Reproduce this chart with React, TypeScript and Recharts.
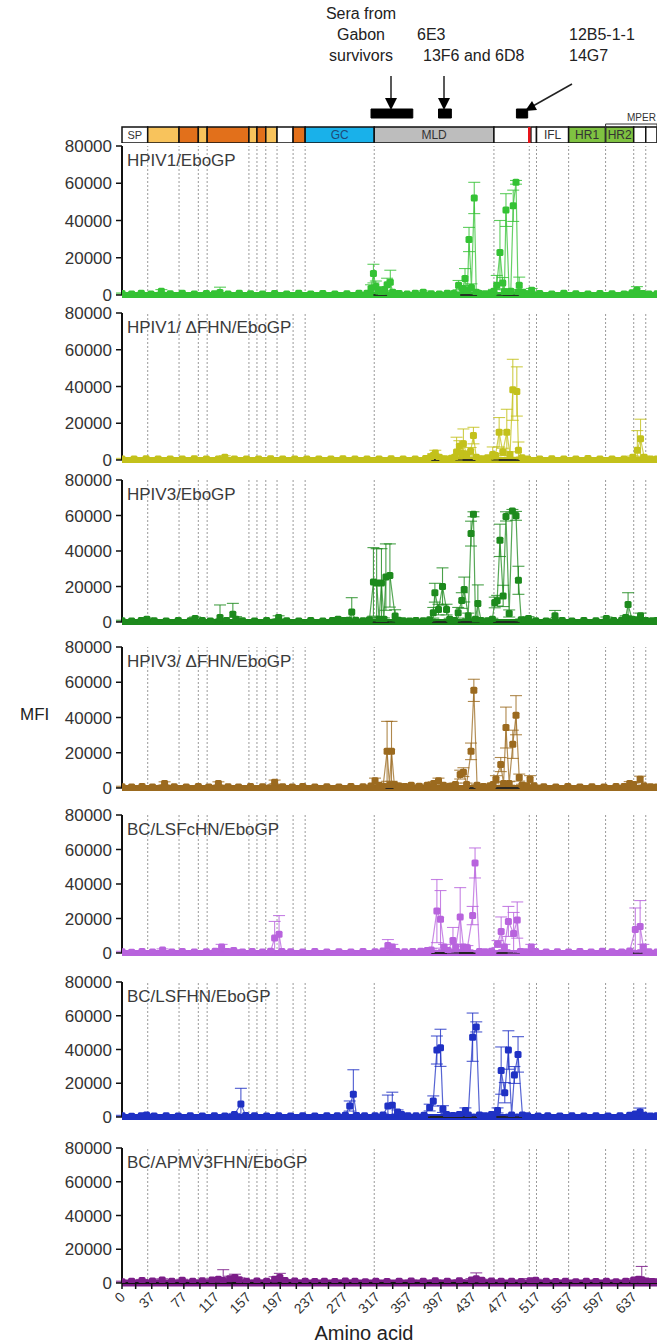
import React from "react";
import { LineChart, Line, XAxis, YAxis, ReferenceLine, ReferenceArea, ErrorBar } from "recharts";

const X_MAX = 666;
const X_TICKS = [0, 17, 37, 57, 77, 97, 117, 137, 157, 177, 197, 217, 237, 257, 277, 297, 317, 337, 357, 377, 397, 417, 437, 457, 477, 497, 517, 537, 557, 577, 597, 617, 637, 657];
const X_LABELS = [0, 37, 77, 117, 157, 197, 237, 277, 317, 357, 397, 437, 477, 517, 557, 597, 637];
const Y_TICKS = [0, 20000, 40000, 60000, 80000];
const DIVIDERS = [32, 71, 95, 106, 158, 168, 179, 193, 213, 228, 314, 463, 507, 516, 556, 602, 637, 652];

// GP domain map (aa ranges)
const DOMAIN_FROM = [0, 32, 71, 95, 106, 158, 168, 179, 193, 213, 228, 314, 463, 509, 516, 556, 602, 637, 652];
const DOMAIN_TO = [32, 71, 95, 106, 158, 168, 179, 193, 213, 228, 314, 463, 507, 516, 556, 602, 637, 652, 666];
const DOMAIN_NAME = ["SP", "", "", "", "", "", "", "", "", "", "GC", "MLD", "", "", "IFL", "HR1", "HR2", "", ""];
const DOMAIN_FILL = ["#fff", "#f8c35c", "#e2701b", "#f8c35c", "#e2701b", "#f8c35c", "#e2701b", "#f8c35c", "#fff", "#e2701b", "#19b1ea", "#bdbdbd", "#fff", "#fff", "#fff", "#7fc241", "#7fc241", "#fff", "#fff"];
const FURIN_SITE = 507;
const EPITOPE_FROM = [310, 394, 491];
const EPITOPE_TO = [362, 410, 505];

// [amino acid, MFI, SD]
const HPIV1_EBOGP = [
  [0, 800, 300], [12, 500, 300], [24, 900, 400], [36, 600, 300], [49, 2000, 900], [60, 700, 300], [75, 900, 400], [90, 600, 300], [105, 800, 400], [115, 700, 300], [122, 1400, 2800], [132, 600, 300], [146, 900, 400], [160, 700, 300], [175, 500, 300], [190, 800, 300], [205, 600, 300], [220, 900, 400], [235, 600, 300], [250, 800, 300], [265, 500, 300], [280, 700, 300], [295, 900, 400], [305, 1000, 400],
  [310, 3500, 2000], [313, 11500, 5000], [316, 4500, 3000], [319, 2500, 1500], [323, 1200, 800], [327, 3000, 1500], [330, 5500, 3500], [334, 6800, 6500], [337, 1500, 800],
  [345, 800, 300], [355, 600, 300], [365, 900, 400], [375, 1500, 600], [385, 700, 300], [395, 600, 300], [405, 1000, 400], [413, 800, 300],
  [419, 5300, 2500], [424, 3500, 1500], [427, 8800, 5400], [430, 2500, 1000], [432, 29800, 6500], [435, 4000, 2000], [438.5, 52100, 8400], [441, 1500, 800], [444, 900, 400], [452, 700, 300], [459, 900, 400],
  [463, 2000, 1000], [466.5, 5300, 5200], [470.5, 22800, 17200], [474, 6400, 3000], [476, 1800, 1000], [478, 45600, 8800], [482, 1000, 500], [484, 2000, 1000], [487, 47900, 8400], [490.5, 60500, 1000], [493, 1500, 600], [494.5, 5300, 4300], [499, 1500, 700],
  [505, 700, 300], [510, 2500, 1000], [520, 800, 300], [535, 600, 300], [550, 900, 400], [565, 700, 300], [580, 600, 300], [595, 800, 300], [610, 700, 300], [625, 600, 300], [635, 1200, 600], [641, 2500, 2000], [648, 800, 300], [656, 600, 300], [666, 700, 300],
];

const HPIV1_DFHN_EBOGP = [
  [0, 600, 300], [15, 500, 200], [30, 700, 300], [45, 500, 200], [60, 600, 300], [75, 500, 200], [90, 700, 300], [105, 500, 200], [120, 600, 300], [128, 1500, 800], [140, 500, 200], [155, 600, 300], [170, 500, 200], [185, 700, 300], [200, 500, 200], [215, 600, 300], [230, 500, 200], [245, 600, 300], [260, 500, 200], [275, 700, 300], [290, 500, 200], [305, 600, 300], [320, 500, 200], [335, 700, 300], [350, 500, 200], [365, 600, 300], [378, 800, 300],
  [384, 1500, 600], [387.5, 2500, 1000], [390, 3800, 1500], [395, 1500, 600], [402, 700, 300], [410, 1000, 400],
  [414, 1500, 600], [416.5, 4400, 8000], [420, 7500, 3000], [423, 3500, 1500], [425, 8900, 8000], [429, 3000, 1500], [434, 4800, 2000], [437.5, 13300, 4500], [441, 1500, 600], [448, 700, 300], [455, 1200, 500],
  [461.5, 3000, 4100], [465, 2500, 1000], [469.5, 15100, 8000], [474, 4400, 2000], [479, 15100, 12500], [483, 3000, 1500], [486.5, 38200, 16600], [491.5, 37300, 13400], [493.5, 5300, 4500], [498, 1200, 500],
  [505, 600, 300], [520, 500, 200], [535, 700, 300], [550, 500, 200], [565, 600, 300], [580, 800, 300], [595, 500, 200], [610, 600, 300], [625, 500, 200], [636, 1500, 600], [641.5, 5300, 10700], [645.5, 11600, 10600], [650, 1500, 500], [658, 600, 300], [666, 500, 200],
];

const HPIV3_EBOGP = [
  [0, 700, 300], [12, 500, 300], [24, 900, 400], [31, 1500, 600], [40, 700, 300], [55, 600, 300], [70, 900, 400], [85, 700, 300], [91, 2000, 800], [100, 800, 300], [110, 600, 300], [122, 2500, 7100], [130, 900, 400], [138, 4300, 6200], [142, 1500, 1500], [150, 700, 300], [165, 600, 300], [180, 800, 300], [195, 2500, 1000], [205, 700, 300], [220, 600, 300], [235, 900, 400], [250, 600, 300], [262, 800, 300], [269, 1500, 600], [276, 800, 300],
  [282, 1000, 400], [286, 5600, 8100], [291, 1000, 400], [300, 700, 300], [308, 1200, 500],
  [313, 22600, 19300], [317, 22000, 19300], [320, 1500, 800], [323, 22000, 19300], [326, 1500, 800], [328.5, 25300, 18700], [333.5, 26200, 17800], [340, 3400, 3500], [344, 1000, 500], [350, 700, 300], [358, 600, 300], [366, 900, 400], [375, 700, 300], [383, 1200, 500],
  [387.5, 5200, 3000], [389.5, 16500, 5300], [394, 7000, 3000], [399, 20000, 10500], [404, 7000, 3000], [408, 1500, 600], [414, 900, 400],
  [418.5, 5200, 3000], [423, 12100, 4400], [426, 18300, 7000], [431, 3500, 1500], [434.5, 49800, 7000], [437.5, 60700, 1400], [440, 1500, 700], [443, 10400, 10500], [447, 800, 300], [455, 700, 300],
  [461, 1500, 600], [464, 11000, 3000], [467, 12000, 3000], [470.5, 46000, 9100], [474.5, 14700, 6000], [478, 59500, 2600], [482, 4800, 2000], [486, 62600, 800], [490.5, 59800, 2500], [493.5, 23500, 7900], [497, 1200, 500],
  [502, 800, 300], [506, 2000, 1000], [515, 700, 300], [528, 600, 300], [539, 3500, 3000], [548, 800, 300], [560, 600, 300], [575, 900, 400], [590, 700, 300], [603, 2000, 800], [612, 800, 300], [622, 1000, 400], [627, 2500, 1000], [630, 9800, 6700], [635, 1500, 600], [640, 1200, 500], [645.5, 3500, 1500], [652, 900, 400], [660, 700, 300], [666, 800, 300],
];

const HPIV3_DFHN_EBOGP = [
  [0, 700, 300], [12, 600, 300], [25, 800, 300], [38, 600, 300], [53, 2500, 1000], [65, 700, 300], [80, 600, 300], [95, 800, 300], [108, 600, 300], [120, 2500, 1000], [132, 700, 300], [145, 600, 300], [160, 800, 300], [175, 700, 300], [190, 3300, 1200], [200, 700, 300], [212, 600, 300], [225, 800, 300], [240, 600, 300], [255, 700, 300], [270, 600, 300], [285, 800, 300], [300, 700, 300], [310, 1200, 500],
  [315, 4100, 1500], [320, 1500, 600], [325, 1000, 400], [330, 20800, 17000], [333, 1500, 600], [335.5, 20800, 17000], [339, 2000, 800], [345, 1200, 500], [352, 800, 300], [360, 1500, 600], [370, 1000, 400], [380, 1500, 600], [388, 2500, 1000], [394, 4100, 1500], [400, 1500, 600], [408, 1000, 400], [415, 2000, 800],
  [421, 7600, 2500], [425, 9000, 2500], [429, 2000, 800], [434.5, 20800, 4700], [438, 55400, 6300], [442, 1500, 600], [450, 800, 300], [458, 1200, 500],
  [462, 2000, 800], [465.5, 5000, 2000], [471.5, 13300, 4000], [475, 2600, 1000], [478, 34300, 11600], [482, 2600, 1000], [486.5, 24800, 8000], [490.5, 41300, 11100], [494.5, 5900, 2000], [498, 1500, 600],
  [504, 1200, 500], [508, 5000, 2000], [513, 1200, 500], [525, 700, 300], [540, 600, 300], [555, 800, 300], [570, 600, 300], [585, 700, 300], [600, 600, 300], [615, 800, 300], [625, 900, 400], [632, 2600, 1000], [637, 2000, 800], [645, 5000, 1700], [650, 1200, 500], [658, 700, 300], [666, 600, 300],
];

const BC_LSFCHN_EBOGP = [
  [0, 700, 300], [12, 500, 300], [25, 800, 300], [38, 600, 300], [50.5, 1700, 700], [62, 600, 300], [75, 800, 300], [90, 600, 300], [105, 700, 300], [116, 1000, 400], [124, 3500, 1500], [131, 800, 300], [139, 1400, 600], [150, 600, 300], [162, 800, 300], [175, 600, 300], [185, 1000, 400], [190, 8700, 9600], [195.5, 10800, 10900], [199, 900, 400], [210, 700, 300], [225, 600, 300], [240, 800, 300], [255, 600, 300], [270, 700, 300], [285, 600, 300], [300, 800, 300], [315, 700, 300], [325, 1200, 500], [331, 4300, 3500], [336.5, 3500, 1500], [342, 900, 400], [352, 700, 300], [362, 800, 300], [372, 1000, 400], [380, 1500, 600],
  [385, 1700, 700], [392, 24300, 18300], [396.5, 19500, 16700], [401, 3500, 1500], [406, 1500, 600], [412, 7300, 7500], [415.5, 3500, 1500], [421, 20900, 17000], [425, 3500, 1500], [430, 3100, 1200], [436.5, 21700, 5300], [439.5, 52200, 8700], [445, 900, 400], [452, 700, 300], [460, 1000, 400],
  [467.5, 5200, 2000], [472, 12500, 8400], [476, 3500, 1500], [481, 18300, 8700], [487.5, 11300, 12200], [492, 19100, 10500], [496, 900, 400], [502, 700, 300], [509.5, 3500, 1500], [515, 800, 300], [528, 600, 300], [542, 700, 300], [556, 600, 300], [570, 800, 300], [584, 600, 300], [598, 1000, 400], [610, 700, 300], [622, 600, 300], [632, 1200, 500], [639, 13600, 12500], [645, 15300, 15100], [649, 3500, 1500], [656, 700, 300], [666, 600, 300],
];

const BC_LSFHN_EBOGP = [
  [0, 700, 300], [12, 500, 300], [24, 800, 300], [30.5, 1200, 500], [40, 600, 300], [55, 800, 300], [70, 600, 300], [85, 700, 300], [100, 600, 300], [115, 800, 300], [128, 600, 300], [140, 1500, 600], [148, 7700, 9300], [154, 900, 400], [165, 700, 300], [180, 600, 300], [195, 800, 300], [210, 600, 300], [225, 700, 300], [240, 600, 300], [255, 800, 300], [268, 700, 300], [278, 1000, 400], [283.5, 6500, 3000], [288, 13500, 14500], [292, 900, 400], [302, 700, 300], [315, 800, 300], [325, 1200, 500], [331, 6500, 6500], [336.5, 7000, 7700], [343, 3000, 1200], [348, 1500, 600], [356, 800, 300], [366, 700, 300], [376, 1000, 400],
  [383, 5600, 2000], [387.5, 9500, 3000], [392, 39700, 8300], [396.5, 41000, 11000], [399.5, 4700, 2000], [404, 1500, 600], [412, 900, 400], [420, 1500, 600], [427.5, 3900, 1500], [431, 1200, 500], [436.5, 47300, 14300], [441, 53400, 3000], [445, 1200, 500], [452, 800, 300], [460, 1500, 600],
  [467.5, 3900, 1500], [472, 27500, 14000], [476.5, 14400, 6000], [481, 39700, 11400], [485, 1200, 500], [488.5, 24900, 5000], [493, 37100, 10500], [498.5, 1200, 500], [505, 700, 300], [518, 600, 300], [530, 800, 300], [545, 600, 300], [560, 700, 300], [575, 600, 300], [590, 800, 300], [605, 600, 300], [620, 700, 300], [632, 1000, 400], [639, 1800, 800], [645, 3000, 2300], [650, 1000, 400], [658, 600, 300], [666, 700, 300],
];

const BC_APMV3FHN_EBOGP = [
  [0, 800, 300], [12, 1000, 400], [25, 1500, 600], [38, 1200, 500], [50, 1800, 700], [62, 1000, 400], [75, 1600, 600], [88, 1000, 400], [100, 1300, 500], [112, 1800, 700], [120, 2200, 900], [126, 1500, 6400], [134, 2500, 1500], [140.5, 3200, 2000], [146, 2000, 1000], [155, 1000, 400], [168, 1200, 500], [180, 1000, 400], [190, 2200, 1500], [196.5, 3200, 2500], [203, 1500, 600], [215, 1200, 500], [228, 1000, 400], [240, 900, 400], [252, 1100, 400], [265, 900, 400], [278, 1200, 500], [290, 1000, 400], [303, 800, 300], [316, 1100, 400], [330, 900, 400], [345, 1000, 400], [360, 1200, 500], [375, 1000, 400], [390, 1300, 500], [405, 1100, 400], [420, 1400, 500], [435, 1800, 800], [441, 2500, 3500], [448, 1600, 600], [460, 1200, 500], [472, 1000, 400], [485, 1100, 400], [497, 900, 400], [508, 1400, 1200], [515, 1600, 600], [528, 1000, 400], [540, 900, 400], [552, 1100, 400], [565, 800, 300], [578, 1000, 400], [590, 900, 400], [603, 1100, 400], [615, 800, 300], [627, 1000, 400], [637, 1800, 700], [643, 2200, 1000], [647, 2000, 7800], [653, 1200, 500], [660, 900, 400], [666, 800, 300],
];

// stretches where the black control trace shows at the baseline
const CONTROL_FROM = [[313, 421, 466], [385, 415, 460], [312, 386, 418, 462], [328, 432, 465], [385, 466, 636], [381, 466], []];
const CONTROL_TO = [[330, 442, 494], [395, 440, 495], [340, 405, 445, 495], [338, 440, 495], [440, 495, 648], [442, 498], []];

const PANEL_TITLES = ["HPIV1/EboGP", "HPIV1/ \u0394FHN/EboGP", "HPIV3/EboGP", "HPIV3/ \u0394FHN/EboGP", "BC/LSFcHN/EboGP", "BC/LSFHN/EboGP", "BC/APMV3FHN/EboGP"];
const PANEL_SERIES = [HPIV1_EBOGP, HPIV1_DFHN_EBOGP, HPIV3_EBOGP, HPIV3_DFHN_EBOGP, BC_LSFCHN_EBOGP, BC_LSFHN_EBOGP, BC_APMV3FHN_EBOGP];
const PANEL_COLORS = ["#34c234", "#c3c11b", "#1d8a1d", "#9b6a1f", "#b863dd", "#1f31c4", "#7b1c88"];
const PANEL_TOPS = [146, 313, 480, 647, 815, 982, 1148];
const PANEL_BOTTOMS = [295, 460, 622, 788, 953, 1117, 1283];

const WIDTH = 657;
const LEFT = 122;
const FONT = "'Liberation Sans', Arial, sans-serif";

function toRows(series: number[][]) {
  return series.map(([aa, mfi, sd]) => ({ aa, mfi, err: [Math.min(sd, mfi), sd] }));
}

function squareDot(color: string) {
  return (p: any) => {
    if (p.cx == null || p.cy == null) return <g key={`e${p.index}`} />;
    return <rect key={`d${p.index}`} x={p.cx - 3.5} y={p.cy - 3.5} width={7} height={7} rx={1.5} fill={color} />;
  };
}

function XTick(props: any) {
  const { x, y, payload } = props;
  if (!X_LABELS.includes(payload.value)) return <g />;
  const ax = x + 4;
  const ay = y + 7;
  return (
    <text x={ax} y={ay} textAnchor="end" fontSize={14} fill="#333" transform={`rotate(-45, ${ax}, ${ay})`}>
      {payload.value}
    </text>
  );
}

function Panel({ index }: { index: number }) {
  const isLast = index === PANEL_SERIES.length - 1;
  const plotTop = PANEL_TOPS[index];
  const plotH = PANEL_BOTTOMS[index] - plotTop;
  const color = PANEL_COLORS[index];
  const mt = 10;
  const bottomSpace = isLast ? 54 : 10;
  return (
    <div style={{ position: "absolute", left: 0, top: plotTop - mt }}>
      <LineChart width={WIDTH} height={plotH + mt + bottomSpace} data={toRows(PANEL_SERIES[index])} margin={{ top: mt, right: 0, bottom: isLast ? 0 : bottomSpace, left: 0 }}>
        <XAxis
          dataKey="aa"
          type="number"
          domain={[0, X_MAX]}
          allowDataOverflow
          ticks={X_TICKS}
          interval={0}
          hide={!isLast}
          height={isLast ? 54 : 0}
          tickSize={6}
          axisLine={{ stroke: "#111", strokeWidth: 2 }}
          tickLine={{ stroke: "#111", strokeWidth: 1.5 }}
          tick={<XTick />}
        />
        <YAxis
          type="number"
          domain={[0, 80000]}
          allowDataOverflow
          ticks={Y_TICKS}
          interval={0}
          width={LEFT}
          tickSize={6}
          tickMargin={4}
          axisLine={{ stroke: "#111", strokeWidth: 2 }}
          tickLine={{ stroke: "#111", strokeWidth: 1.5 }}
          tick={{ fontSize: 17, fill: "#333" }}
        />
        {DIVIDERS.map((d) => (
          <ReferenceLine key={d} x={d} stroke="#9a9a9a" strokeDasharray="2 2" strokeWidth={1} />
        ))}
        <ReferenceLine y={0} stroke={color} strokeWidth={isLast ? 7 : 6} />
        {CONTROL_FROM[index].map((from, i) => (
          <ReferenceLine
            key={`c${i}`}
            segment={[{ x: from, y: 0 }, { x: CONTROL_TO[index][i], y: 0 }]}
            stroke="#222"
            strokeWidth={1.8}
          />
        ))}
        <Line
          type="linear"
          dataKey="mfi"
          stroke={color}
          strokeOpacity={0.75}
          strokeWidth={1.2}
          dot={squareDot(color)}
          activeDot={false}
          isAnimationActive={false}
        >
          <ErrorBar dataKey="err" width={6} stroke={color} strokeWidth={1.1} strokeOpacity={0.8} direction="y" />
        </Line>
      </LineChart>
      <div style={{ position: "absolute", left: 127, top: mt + 6, fontSize: 17, lineHeight: "17px", color: "#3b3b3b", whiteSpace: "nowrap" }}>
        {PANEL_TITLES[index]}
      </div>
    </div>
  );
}

function DomainMap() {
  return (
    <div style={{ position: "absolute", left: 0, top: 103 }}>
      <LineChart width={WIDTH} height={40} data={[{ aa: 0 }, { aa: X_MAX }]} margin={{ top: 0, right: 0, bottom: 0, left: LEFT }}>
        <XAxis dataKey="aa" type="number" domain={[0, X_MAX]} allowDataOverflow hide />
        <YAxis type="number" domain={[0, 40]} allowDataOverflow hide />
        {DOMAIN_FROM.map((from, i) => (
          <ReferenceArea
            key={`dom${i}`}
            x1={from}
            x2={DOMAIN_TO[i]}
            y1={0}
            y2={16}
            fill={DOMAIN_FILL[i]}
            fillOpacity={1}
            stroke="#111"
            strokeWidth={1.5}
            label={DOMAIN_NAME[i] ? { value: DOMAIN_NAME[i], position: "center", fontSize: i === 0 ? 11 : 12, fill: i === 10 ? "#1f4b78" : "#333" } : undefined}
          />
        ))}
        <ReferenceArea x1={602} x2={X_MAX} y1={0} y2={19} fill="none" stroke="#333" strokeWidth={1} />
        <ReferenceLine segment={[{ x: FURIN_SITE, y: 0 }, { x: FURIN_SITE, y: 16 }]} stroke="#e8141a" strokeWidth={2.5} />
        {EPITOPE_FROM.map((from, i) => (
          <ReferenceArea key={`ep${i}`} x1={from} x2={EPITOPE_TO[i]} y1={25} y2={34} fill="#000" fillOpacity={1} stroke="#000" />
        ))}
      </LineChart>
    </div>
  );
}

export default function App() {
  const text = { position: "absolute" as const, fontSize: 16, lineHeight: "21px", color: "#222", whiteSpace: "nowrap" as const };
  return (
    <div style={{ position: "absolute", left: 0, top: 0, width: WIDTH, height: 1343, overflow: "hidden", background: "#fff", fontFamily: FONT }}>
      <div style={{ ...text, left: 311, top: 3, width: 100, textAlign: "center" }}>
        Sera from
        <br />
        Gabon
        <br />
        survivors
      </div>
      <div style={{ ...text, left: 417, top: 24 }}>6E3</div>
      <div style={{ ...text, left: 423, top: 45 }}>13F6 and 6D8</div>
      <div style={{ ...text, left: 569, top: 24 }}>12B5-1-1</div>
      <div style={{ ...text, left: 569, top: 45 }}>14G7</div>
      <div style={{ position: "absolute", left: 627, top: 112, fontSize: 10, color: "#333" }}>MPER</div>
      <svg width={WIDTH} height={130} style={{ position: "absolute", left: 0, top: 0 }}>
        <line x1={391} y1={76} x2={391} y2={99} stroke="#222" strokeWidth={1.5} />
        <polygon points="385,98 397,98 391,110" fill="#000" />
        <line x1={444} y1={76} x2={444} y2={99} stroke="#222" strokeWidth={1.5} />
        <polygon points="438,98 450,98 444,110" fill="#000" />
        <line x1={572} y1={84} x2={533} y2={106} stroke="#222" strokeWidth={1.5} />
        <polygon points="525,111 537,110 532,101" fill="#000" />
      </svg>
      <DomainMap />
      {PANEL_SERIES.map((_, i) => (
        <Panel key={i} index={i} />
      ))}
      <div style={{ position: "absolute", left: 20, top: 705, fontSize: 17, color: "#222" }}>MFI</div>
      <div style={{ position: "absolute", left: 264, width: 200, textAlign: "center", top: 1322, fontSize: 20, lineHeight: "22px", color: "#222" }}>
        Amino acid
      </div>
    </div>
  );
}
